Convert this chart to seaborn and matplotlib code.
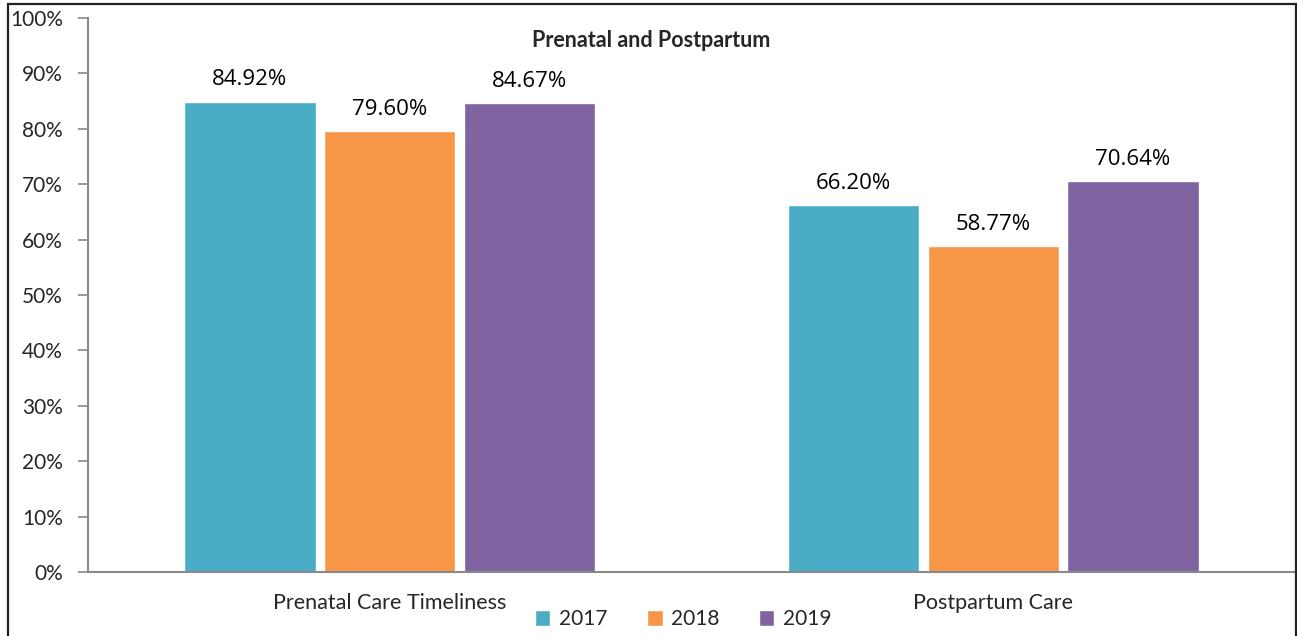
import pandas as pd
import matplotlib.pyplot as plt
import seaborn as sns
from matplotlib.patches import Rectangle

# datos
medidas = ["Prenatal Care Timeliness", "Postpartum Care"]
anios = ["2017", "2018", "2019"]
valores_2017 = [84.92, 66.20]
valores_2018 = [79.60, 58.77]
valores_2019 = [84.67, 70.64]
colores = ["#4BACC6", "#F79646", "#8064A2"]

df = pd.DataFrame({
    "Medida": medidas * 3,
    "Anio": [a for a in anios for _ in medidas],
    "Valor": valores_2017 + valores_2018 + valores_2019,
})

sns.set_style("white")
plt.rcParams['font.family'] = ['Lato', 'DejaVu Sans']

fig = plt.figure(figsize=(12.97, 6.36), dpi=100)
ax = fig.add_axes([88 / 1297, 1 - 572 / 636, (1295 - 88) / 1297, (572 - 18) / 636])

sns.barplot(data=df, x="Medida", y="Valor", hue="Anio", palette=colores,
            width=0.695, saturation=1, ax=ax)

# separacion blanca entre barras
for p in ax.patches:
    w = p.get_width()
    p.set_x(p.get_x() + w * 0.03)
    p.set_width(w * 0.94)

for c in ax.containers:
    ax.bar_label(c, labels=[f"{v:.2f}%" for v in c.datavalues], padding=8,
                 fontsize=16, family="Open Sans", color="#000000")

ax.set_ylim(0, 100)
ax.set_xlim(-0.5, 1.5)
ax.set_yticks(range(0, 101, 10))
ax.set_yticklabels([f"{t}%" for t in range(0, 101, 10)], fontsize=15)
ax.tick_params(axis="x", labelsize=15.5, length=0, pad=15)
ax.set_xticks([-0.5, 0.5, 1.5], minor=True)
ax.tick_params(axis="x", which="minor", length=7, color="#898989", width=1.2, direction="out")
ax.tick_params(axis="y", length=7, color="#898989", width=1.2, direction="out", pad=11, left=True)
ax.set_xlabel("")
ax.set_ylabel("")

for s in ["top", "right"]:
    ax.spines[s].set_visible(False)
for s in ["left", "bottom"]:
    ax.spines[s].set_color("#898989")
    ax.spines[s].set_linewidth(1.5)

ax.text(0.467, 0.96, "Prenatal and Postpartum", transform=ax.transAxes,
        ha="center", va="center", fontsize=15.5, fontweight="bold")

ax.legend(loc="center", bbox_to_anchor=(0.493, -0.0855), ncol=3, frameon=False,
          fontsize=15, handlelength=0.75, handleheight=0.75, columnspacing=1.9,
          handletextpad=0.4, borderaxespad=0)

# borde de la figura
fig.patches.append(Rectangle((8 / 1297, -0.01), (1296 - 8) / 1297, 1 - 4 / 636 + 0.01,
                             transform=fig.transFigure, fill=False,
                             edgecolor="#222222", linewidth=1.6))

fig.savefig("out.png", dpi=100)
